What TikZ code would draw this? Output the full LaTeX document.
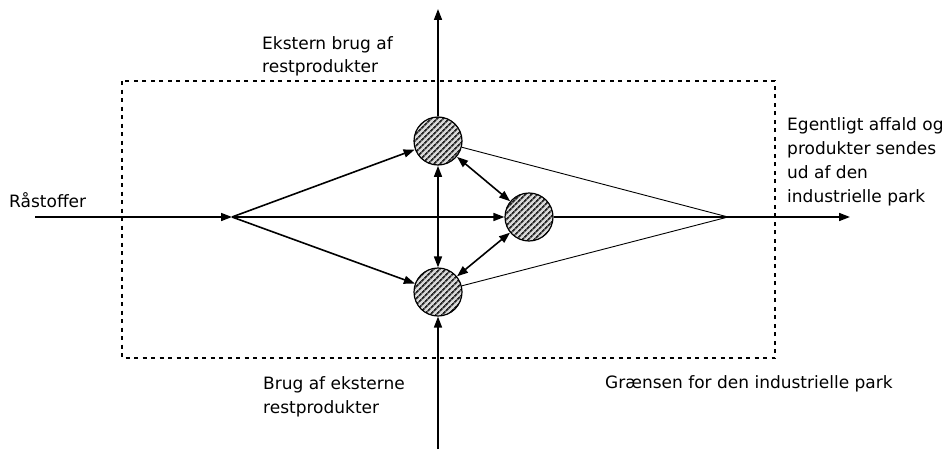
\documentclass[tikz,border=0pt]{standalone}
\usepackage{fontspec}
\setmainfont{DejaVu Sans}
\usetikzlibrary{arrows.meta,patterns.meta}
\begin{document}
\begin{tikzpicture}[x=1pt,y=-1pt,
  tip/.tip={Triangle[length=11pt,width=8pt]},
  flow/.style={line width=1.6pt,-tip},
  both/.style={line width=1.6pt,tip-tip},
  thinline/.style={line width=0.9pt},
  hub/.style={circle,draw,line width=1.2pt,minimum size=48pt,inner sep=0pt,
    preaction={fill=black!15},
    pattern={Lines[angle=45,distance=4pt,line width=1.8pt]},pattern color=black!85},
  lbl/.style={align=left,inner sep=0pt,anchor=base west,font=\fontsize{17}{24}\selectfont},
  boundary/.style={line width=1.3pt,dash pattern=on 4pt off 4.5pt}]
\useasboundingbox (0,0) rectangle (947,452);
\draw[boundary] (122,81) rectangle (775,358);
\node[hub] (A) at (438,141) {};
\node[hub] (B) at (438,292) {};
\node[hub] (M) at (529,217) {};
\coordinate (L) at (232,217);
\coordinate (R) at (728,217);
\coordinate (in) at (35,217);
\coordinate (out) at (850,217);
\coordinate (up) at (438,9);
\coordinate (down) at (438,449);
\draw[flow] (in) -- (L);
\draw[flow] (L) -- (A);
\draw[flow] (L) -- (B);
\draw[flow] (L) -- (M);
\draw[thinline] (A) -- (R);
\draw[thinline] (B) -- (R);
\draw[flow] (M) -- (out);
\draw[both] (A) -- (B);
\draw[both] (A) -- (M);
\draw[both] (M) -- (B);
\draw[flow] (A) -- (up);
\draw[flow] (down) -- (B);
\node[lbl] (ext) at (262,73) {Ekstern brug af\\restprodukter};
\node[lbl] (raw) at (9,207) {Råstoffer};
\node[lbl] (waste) at (787,202) {Egentligt affald og\\produkter sendes\\ud af den\\industrielle park};
\node[lbl] (use) at (263,413) {Brug af eksterne\\restprodukter};
\node[lbl] (border) at (605,388) {Grænsen for den industrielle park};
\end{tikzpicture}
\end{document}
